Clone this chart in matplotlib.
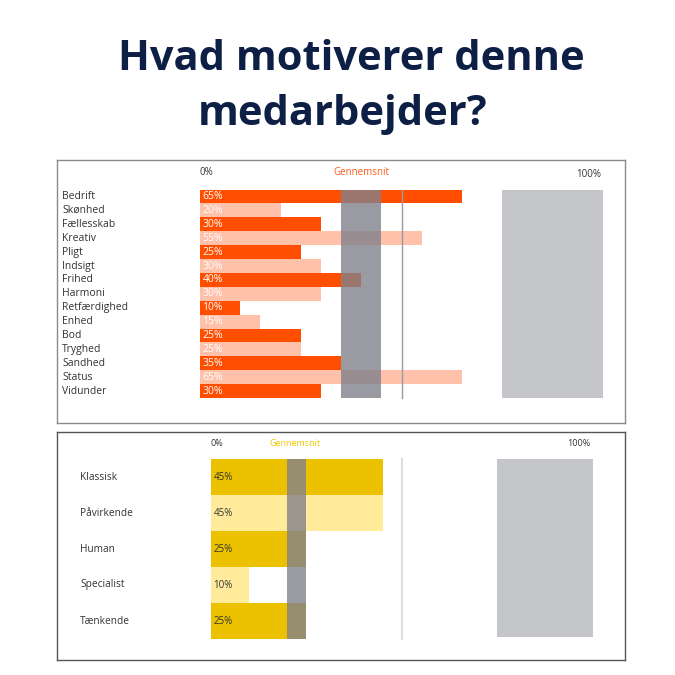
import matplotlib
matplotlib.use("Agg")
import matplotlib.pyplot as plt

# ---- data ----
title_lines = ["Hvad motiverer denne", "medarbejder?"]
top_categories = ["Bedrift", "Skønhed", "Fællesskab", "Kreativ", "Pligt", "Indsigt", "Frihed",
                  "Harmoni", "Retfærdighed", "Enhed", "Bod", "Tryghed", "Sandhed", "Status", "Vidunder"]
top_values = [65, 20, 30, 55, 25, 30, 40, 30, 10, 15, 25, 25, 35, 65, 30]
top_avg = (35, 45)
bottom_categories = ["Klassisk", "Påvirkende", "Human", "Specialist", "Tænkende"]
bottom_values = [45, 45, 25, 10, 25]
bottom_avg = (20, 25)
ref_line = 50
ref_box = (75, 100)
avg_label = "Gennemsnit"

plt.rcParams['font.family'] = ['Open Sans', 'DejaVu Sans']

W = H = 675
fig = plt.figure(figsize=(6.75, 6.75), dpi=100)
fig.patch.set_facecolor("white")

for line, cx, by in zip(title_lines, [351, 343], [70, 125]):
    fig.text(cx / W, 1 - by / H, line, ha="center", va="baseline", fontsize=30, fontweight="bold",
             color="#0d1f45")


def make_ax(x0, y0, x1, y1):
    ax = fig.add_axes([x0 / W, 1 - y1 / H, (x1 - x0) / W, (y1 - y0) / H])
    ax.set_xticks([])
    ax.set_yticks([])
    return ax


# ---- top panel ----
ax = make_ax(57, 160, 625, 423)
px = 4.03  # pixels per percent
ax.set_xlim((57 - 200) / px, (625 - 200) / px)
rh = 13.9
c0 = 196.5
ax.set_ylim((423 - c0) / rh, (160 - c0) / rh)
for s in ax.spines.values():
    s.set_color("#8a8a8a")
    s.set_linewidth(1)

n = len(top_categories)
rows = list(range(n))
colors = ["#ff4e00" if i % 2 == 0 else "#ffc1aa" for i in rows]
ax.fill_between(list(ref_box), -0.5, n - 0.5, color="#c5c6ca", lw=0, zorder=1)
ax.barh(rows, top_values, height=1.0, color=colors, zorder=2)
ax.plot([ref_line, ref_line], [-0.5, n - 0.5], color="#9a9aa3", lw=1, zorder=3)
ax.fill_between(list(top_avg), -0.5, n - 0.5, color="#81818c", alpha=0.8, lw=0, zorder=4)
for i, (c, v) in enumerate(zip(top_categories, top_values)):
    ax.text((62 - 200) / px, i, c, ha="left", va="center", fontsize=7.5, color="#333333")
    ax.text(0.6, i, f"{v}%", ha="left", va="center", fontsize=7.5, color="white", zorder=5)
yl = (172 - c0) / rh
ax.text(0, yl, "0%", ha="left", va="center", fontsize=7, color="#333333")
ax.text(sum(top_avg) / 2, yl, avg_label, ha="center", va="center", fontsize=7, color="#ff5a1a")
ax.text(ref_box[1] - 0.5, (174 - c0) / rh, "100%", ha="right", va="center", fontsize=7, color="#333333")

# ---- bottom panel ----
ax2 = make_ax(57, 432, 625, 660)
px2 = 3.82
ax2.set_xlim((57 - 211) / px2, (625 - 211) / px2)
rh2 = 36.0
c02 = 477
ax2.set_ylim((660 - c02) / rh2, (432 - c02) / rh2)
for s in ax2.spines.values():
    s.set_color("#555555")
    s.set_linewidth(1)

m = len(bottom_categories)
rows2 = list(range(m))
colors2 = ["#ecc200" if i % 2 == 0 else "#ffeb99" for i in rows2]
ax2.fill_between(list(ref_box), -0.5, m - 0.5 - 0.05, color="#c5c6ca", lw=0, zorder=1)
ax2.barh(rows2, bottom_values, height=1.0, color=colors2, zorder=2)
ax2.plot([ref_line, ref_line], [-0.5, m - 0.5], color="#dddddd", lw=1.5, zorder=3)
ax2.fill_between(list(bottom_avg), -0.5, m - 0.5, color="#81818c", alpha=0.8, lw=0, zorder=4)
for i, (c, v) in enumerate(zip(bottom_categories, bottom_values)):
    ax2.text((80 - 211) / px2, i, c, ha="left", va="center", fontsize=7.3, color="#333333")
    ax2.text(0.6, i, f"{v}%", ha="left", va="center", fontsize=7, color="#333333", zorder=5)
yl2 = (443 - c02) / rh2
ax2.text(0, yl2, "0%", ha="left", va="center", fontsize=6.5, color="#333333")
ax2.text(sum(bottom_avg) / 2 - 0.5, yl2, avg_label, ha="center", va="center", fontsize=6.5, color="#f0c800")
ax2.text(ref_box[1] - 0.8, yl2, "100%", ha="right", va="center", fontsize=6.5, color="#333333")

fig.savefig("out.png", dpi=100, facecolor="white")
